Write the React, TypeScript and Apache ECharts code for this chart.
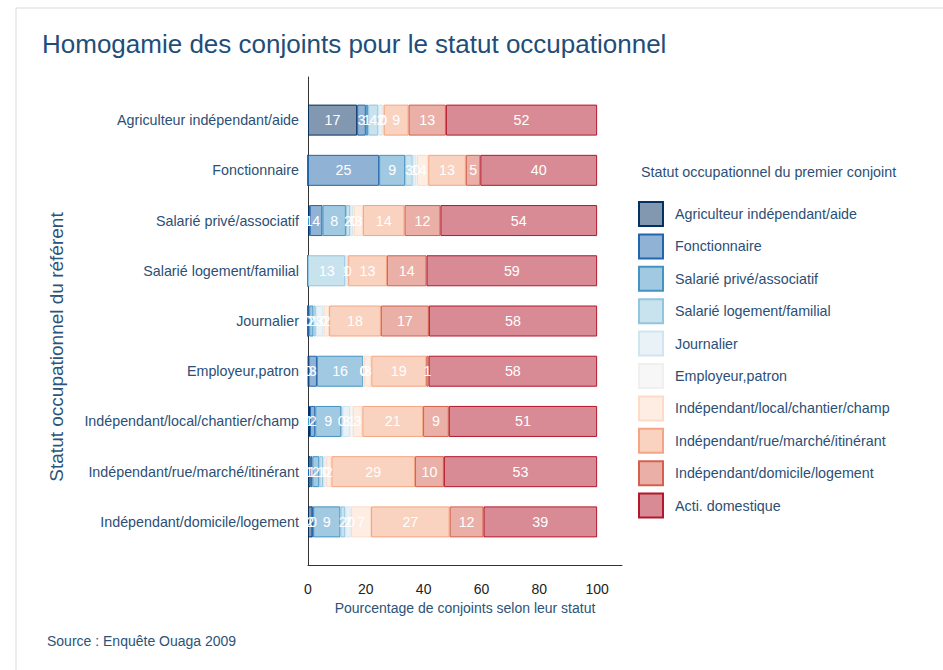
import React, { useEffect, useRef } from "react";
import * as echarts from "echarts";

const categories = [
  "Agriculteur indépendant/aide",
  "Fonctionnaire",
  "Salarié privé/associatif",
  "Salarié logement/familial",
  "Journalier",
  "Employeur,patron",
  "Indépendant/local/chantier/champ",
  "Indépendant/rue/marché/itinérant",
  "Indépendant/domicile/logement",
];

const seriesNames = [
  "Agriculteur indépendant/aide",
  "Fonctionnaire",
  "Salarié privé/associatif",
  "Salarié logement/familial",
  "Journalier",
  "Employeur,patron",
  "Indépendant/local/chantier/champ",
  "Indépendant/rue/marché/itinérant",
  "Indépendant/domicile/logement",
  "Acti. domestique",
];

const agriculteur = [17.0, 0, 0.6, 0, 0, 0.2, 0.7, 0.9, 1.6];
const fonctionnaire = [3.0, 24.6, 4.4, 0, 0.4, 2.9, 1.8, 0.6, 0.2];
const salariePrive = [0.8, 9.0, 8.1, 0, 1.5, 16.0, 9.0, 2.4, 9.4];
const salarieLogement = [3.5, 2.6, 1.5, 12.9, 0.8, 0.1, 0.4, 1.3, 1.7];
const journalier = [1.5, 1.1, 1.0, 0.6, 2.6, 0.1, 2.6, 0.9, 1.9];
const employeur = [0.1, 0.4, 0.3, 0, 0.1, 0.1, 1.0, 0.2, 0.1];
const indepLocal = [0.3, 3.9, 3.1, 0.4, 1.9, 2.5, 3.3, 1.8, 6.9];
const indepRue = [8.6, 13.0, 14.4, 13.4, 17.9, 19.0, 21.0, 28.9, 27.2];
const indepDomicile = [12.9, 5.0, 12.4, 13.7, 16.6, 0.8, 8.9, 10.0, 11.7];
const actiDomestique = [52.3, 40.4, 54.2, 59.0, 58.2, 58.3, 51.3, 53.0, 39.3];

const seriesValues = [
  agriculteur,
  fonctionnaire,
  salariePrive,
  salarieLogement,
  journalier,
  employeur,
  indepLocal,
  indepRue,
  indepDomicile,
  actiDomestique,
];

const palette = [
  [5, 48, 97],
  [33, 102, 172],
  [67, 147, 195],
  [146, 197, 222],
  [209, 229, 240],
  [240, 240, 240],
  [253, 219, 199],
  [244, 165, 130],
  [214, 96, 77],
  [178, 24, 43],
];

const xTicks = [0, 20, 40, 60, 80, 100];

const FONT = "'Helvetica Neue', 'Liberation Sans', Arial, sans-serif";

export default function App() {
  const ref = useRef<HTMLDivElement>(null);

  useEffect(() => {
    if (!ref.current) return;
    const chart = echarts.init(ref.current, null, { renderer: "svg" });

    const series = seriesNames.map((name, i) => {
      const [r, g, b] = palette[i];
      return {
        name,
        type: "bar",
        stack: "total",
        xAxisIndex: 0,
        yAxisIndex: 0,
        barWidth: 31,
        data: seriesValues[i],
        itemStyle: {
          color: `rgba(${r},${g},${b},0.5)`,
          borderColor: `rgb(${r},${g},${b})`,
          borderWidth: 1,
        },
        label: {
          show: true,
          position: "inside",
          color: "#ffffff",
          fontSize: 14.3,
          fontFamily: FONT,
          formatter: (p: any) => (p.value > 0 ? String(Math.round(p.value)) : ""),
        },
        emphasis: { disabled: true },
      };
    });

    const option: any = {
      animation: false,
      backgroundColor: "#ffffff",
      textStyle: { fontFamily: FONT },
      title: {
        text: "Homogamie des conjoints pour le statut occupationnel",
        left: 42,
        top: 31,
        padding: 0,
        textStyle: {
          color: "#1f4e79",
          fontSize: 26,
          fontWeight: "normal",
          fontFamily: FONT,
        },
      },
      grid: [
        { left: 308, right: 321, top: 95, bottom: 123 },
        { left: 308, right: 321, top: 77, bottom: 105 },
      ],
      xAxis: [
        {
          type: "value",
          gridIndex: 0,
          min: 0,
          max: 108.6,
          show: false,
        },
        {
          type: "value",
          gridIndex: 1,
          min: 0,
          max: 108.6,
          interval: 20,
          axisLine: { show: true, lineStyle: { color: "#333333", width: 1 } },
          axisTick: { show: false },
          splitLine: { show: false },
          axisLabel: {
            show: true,
            showMaxLabel: false,
            margin: 17,
            color: "#222222",
            fontSize: 14,
            fontFamily: FONT,
            formatter: (v: number) => (xTicks.includes(v) ? String(v) : ""),
          },
          name: "Pourcentage de conjoints selon leur statut",
          nameLocation: "middle",
          nameGap: 36,
          nameTextStyle: { color: "#2c5379", fontSize: 14, fontFamily: FONT },
        },
      ],
      yAxis: [
        {
          type: "category",
          gridIndex: 0,
          data: categories,
          inverse: true,
          axisLine: { show: false },
          axisTick: { show: false },
          splitLine: { show: false },
          axisLabel: {
            margin: 9,
            color: "#2c4f75",
            fontSize: 14.3,
            fontFamily: FONT,
          },
        },
        {
          type: "value",
          gridIndex: 1,
          min: 0,
          max: 1,
          axisLine: { show: true, lineStyle: { color: "#333333", width: 1 } },
          axisTick: { show: false },
          splitLine: { show: false },
          axisLabel: { show: false },
        },
      ],
      legend: {
        orient: "vertical",
        left: 638,
        top: 201,
        padding: 0,
        itemWidth: 24,
        itemHeight: 24,
        itemGap: 6.4,
        icon: "rect",
        selectedMode: false,
        data: seriesNames,
        textStyle: {
          color: "#2c4f75",
          fontSize: 14.3,
          fontFamily: FONT,
          padding: [0, 0, 0, 7],
        },
      },
      graphic: [
        {
          type: "rect",
          silent: true,
          z: -10,
          shape: { x: 16, y: 8, width: 2000, height: 2000 },
          style: { fill: "none", stroke: "#d9d9d9", lineWidth: 1 },
        },
        {
          type: "text",
          x: 641,
          y: 172,
          style: {
            text: "Statut occupationnel du premier conjoint",
            fill: "#2c4f75",
            font: `14.3px ${FONT}`,
            textAlign: "left",
            textVerticalAlign: "middle",
          },
        },
        {
          type: "text",
          x: 56,
          y: 347,
          rotation: Math.PI / 2,
          style: {
            text: "Statut occupationnel du référent",
            fill: "#2c5379",
            font: `19px ${FONT}`,
            textAlign: "center",
            textVerticalAlign: "middle",
          },
        },
        {
          type: "text",
          x: 47,
          y: 641,
          style: {
            text: "Source : Enquête Ouaga 2009",
            fill: "#2c5379",
            font: `14px ${FONT}`,
            textAlign: "left",
            textVerticalAlign: "middle",
          },
        },
      ],
      series,
    };

    chart.setOption(option);
    return () => chart.dispose();
  }, []);

  return (
    <div
      ref={ref}
      style={{ position: "fixed", left: 0, top: 0, width: 943, height: 670 }}
    />
  );
}
